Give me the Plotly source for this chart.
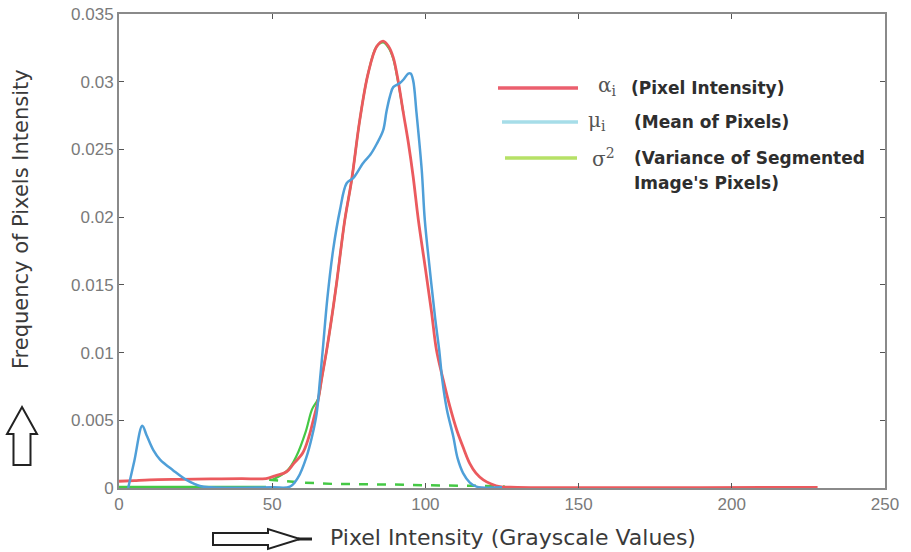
import plotly.graph_objects as go

# ---- data ----
red_x = [0, 5, 10, 20, 30, 40, 48, 51, 54.7, 57, 60, 62, 63.4, 65, 66.1, 67.8, 69.5, 71,
         73.7, 75.9, 78.6, 81.3, 84.1, 86.2, 88, 89.5, 91, 92.8, 94.5, 96, 97.7, 100, 102,
         103.6, 105.8, 108, 110.2, 112.5, 114.5, 116.5, 118.9, 121.5, 124.3, 130, 228]
red_y = [0.0005, 0.00055, 0.0006, 0.00064, 0.00067, 0.00069, 0.0007, 0.0009, 0.0012, 0.0018,
         0.0026, 0.0038, 0.005, 0.0065, 0.008, 0.0102, 0.0127, 0.0151, 0.0198, 0.0227, 0.0272,
         0.0306, 0.0326, 0.033, 0.0326, 0.0318, 0.0302, 0.0277, 0.0254, 0.023, 0.0198, 0.0162,
         0.013, 0.0102, 0.008, 0.006, 0.0043, 0.0029, 0.0018, 0.0011, 0.0006, 0.0003, 0.0001,
         0.00005, 0.00005]

blue_x = [3, 5, 7.6, 9, 11.2, 13.4, 17.7, 22, 26.4, 30, 50, 55.8, 58.5, 61.2, 63, 64.5, 65.6,
          66.5, 68, 69.9, 72.1, 74.3, 76.5, 79.7, 82, 84.1, 86.2, 87.3, 88.4, 89.5, 91.7, 93,
          94.4, 95.2, 96, 97.1, 98.8, 99.8, 101.5, 103.2, 104.5, 105.5, 107, 109.1, 110.5,
          112.3, 114.5, 116.7, 125]
blue_y = [0.0, 0.002, 0.0046, 0.0039, 0.0028, 0.0021, 0.0013, 0.0006, 0.00015, 0.00005,
          0.00005, 0.0001, 0.0008, 0.0023, 0.0038, 0.0055, 0.008, 0.0102, 0.014, 0.0176,
          0.0205, 0.0225, 0.0229, 0.024, 0.0246, 0.0254, 0.0264, 0.0278, 0.0289, 0.0296,
          0.0299, 0.0302, 0.0306, 0.0306, 0.0301, 0.0277, 0.0235, 0.0198, 0.016, 0.0125,
          0.0102, 0.008, 0.0058, 0.0038, 0.0022, 0.0011, 0.0004, 0.0001, 0.00005]

green_base_x = [0, 10, 20, 30, 40, 48]
green_base_y = [0.00008, 0.00008, 0.00008, 0.00008, 0.00008, 0.00008]

green_dash_x = [49, 60, 70, 80, 90, 100, 110, 120, 126]
green_dash_y = [0.0006, 0.0004, 0.0003, 0.0003, 0.00025, 0.0002, 0.0002, 0.00015, 0.0001]

green_flank_x = [50, 55, 58, 61, 63, 65, 66.1, 67.8, 69.5, 71, 73.7, 75.9, 78.6, 81.3,
                 84.1, 86.2, 88, 89.5, 91, 92.8]
green_flank_y = [0.0006, 0.0013, 0.0024, 0.0042, 0.0058, 0.0066, 0.008, 0.0102, 0.0127,
                 0.0151, 0.0198, 0.0227, 0.0272, 0.0306, 0.0326, 0.0329, 0.0325, 0.0317,
                 0.0301, 0.0277]

x_ticks = [0, 50, 100, 150, 200, 250]
y_ticks = [0, 0.005, 0.01, 0.015, 0.02, 0.025, 0.03, 0.035]
y_tick_text = ["0", "0.005", "0.01", "0.015", "0.02", "0.025", "0.03", "0.035"]

RED = "#eb5a5e"
BLUE = "#4f9fd8"
GREEN = "#45c845"

fig = go.Figure()
fig.add_trace(go.Scatter(x=green_base_x, y=green_base_y, mode="lines",
                         line=dict(color=GREEN, width=2.5), showlegend=False))
fig.add_trace(go.Scatter(x=green_flank_x, y=green_flank_y, mode="lines", line_shape="spline",
                         line=dict(color=GREEN, width=2.2), showlegend=False))
fig.add_trace(go.Scatter(x=green_dash_x, y=green_dash_y, mode="lines",
                         line=dict(color=GREEN, width=2.5, dash="dash"), showlegend=False))
fig.add_trace(go.Scatter(x=red_x, y=red_y, mode="lines", line_shape="spline",
                         line=dict(color=RED, width=2.8), showlegend=False))
fig.add_trace(go.Scatter(x=blue_x, y=blue_y, mode="lines", line_shape="spline",
                         line=dict(color=BLUE, width=2.5), showlegend=False))

# ---- hand-drawn legend (paper coordinates) ----
L, R, T, B = 119, 885, 14, 488
W, H = 911, 552


def px(xp):
    return (xp - L) / (R - L)


def py(yp):
    return (B - yp) / (B - T)


shapes = []
legend_rows = [
    (498, 578, 88, "#eb5f6e"),
    (502, 578, 122, "#a6dde8"),
    (505, 577, 158, "#b6e166"),
]
for x0, x1, yy, c in legend_rows:
    shapes.append(dict(type="line", xref="paper", yref="paper",
                       x0=px(x0), x1=px(x1), y0=py(yy), y1=py(yy),
                       line=dict(color=c, width=3.5)))

TXT = "#2e2e2e"
LEG_FONT = dict(family="DejaVu Sans", size=17, color=TXT)
SYM_FONT = dict(family="DejaVu Serif", size=20, color="#555555")
annotations = [
    dict(text="α<sub>i</sub>", x=px(596), y=py(86), xanchor="left", yanchor="middle", font=SYM_FONT),
    dict(text="<b>(Pixel Intensity)</b>", x=px(629), y=py(88), xanchor="left", yanchor="middle", font=LEG_FONT),
    dict(text="μ<sub>i</sub>", x=px(586), y=py(121), xanchor="left", yanchor="middle", font=SYM_FONT),
    dict(text="<b>(Mean of Pixels)</b>", x=px(632), y=py(122), xanchor="left", yanchor="middle", font=LEG_FONT),
    dict(text="σ<sup>2</sup>", x=px(590), y=py(158), xanchor="left", yanchor="middle", font=SYM_FONT),
    dict(text="<b>(Variance of Segmented</b>", x=px(632), y=py(158), xanchor="left", yanchor="middle", font=LEG_FONT),
    dict(text="<b>Image's Pixels)</b>", x=px(632), y=py(183), xanchor="left", yanchor="middle", font=LEG_FONT),
]
for a in annotations:
    a.update(xref="paper", yref="paper", showarrow=False)

# axis titles
annotations.append(dict(text="Frequency of Pixels Intensity", xref="paper", yref="paper",
                        x=px(21), y=py(219), textangle=-90, showarrow=False,
                        xanchor="center", yanchor="middle",
                        font=dict(family="DejaVu Sans", size=21, color="#3a3a3a")))
annotations.append(dict(text="Pixel Intensity (Grayscale Values)", xref="paper", yref="paper",
                        x=px(328), y=py(537), showarrow=False,
                        xanchor="left", yanchor="middle",
                        font=dict(family="DejaVu Sans", size=22, color="#3a3a3a")))


# hollow arrows beside the axis titles
def path_from(points):
    return "M " + " L ".join(f"{px(a):.5f},{py(b):.5f}" for a, b in points) + " Z"


up_arrow = [(22, 407), (37, 434), (30.5, 434), (30.5, 465), (13.5, 465), (13.5, 434), (7, 434)]
shapes.append(dict(type="path", xref="paper", yref="paper", path=path_from(up_arrow),
                   line=dict(color="#222222", width=2), fillcolor="rgba(0,0,0,0)"))
right_arrow = [(213, 533), (268, 533), (268, 529), (300, 539), (268, 549), (268, 545), (213, 545)]
shapes.append(dict(type="path", xref="paper", yref="paper", path=path_from(right_arrow),
                   line=dict(color="#222222", width=2), fillcolor="rgba(0,0,0,0)"))
shapes.append(dict(type="line", xref="paper", yref="paper", x0=px(298), x1=px(312),
                   y0=py(539), y1=py(539), line=dict(color="#222222", width=3)))

AX = "#8a8a8a"
TICK_FONT = dict(family="Arial", size=17, color="#7a7a7a")
fig.update_layout(
    width=W, height=H,
    margin=dict(l=L, r=W - R, t=T, b=H - B, autoexpand=False),
    paper_bgcolor="white", plot_bgcolor="white",
    shapes=shapes, annotations=annotations,
    showlegend=False,
    xaxis=dict(range=[0, 250], tickvals=x_ticks, ticks="inside", ticklen=5, tickcolor="#555555",
               showline=True, linecolor=AX, linewidth=2, mirror="ticks", showgrid=False,
               zeroline=False, tickfont=TICK_FONT, automargin=False),
    yaxis=dict(range=[0, 0.035], tickvals=y_ticks, ticktext=y_tick_text, ticks="inside",
               ticklen=5, tickcolor="#555555", showline=True, linecolor=AX, linewidth=2,
               mirror="ticks", showgrid=False, zeroline=False, tickfont=TICK_FONT,
               automargin=False),
)

fig.write_html("out.html")
